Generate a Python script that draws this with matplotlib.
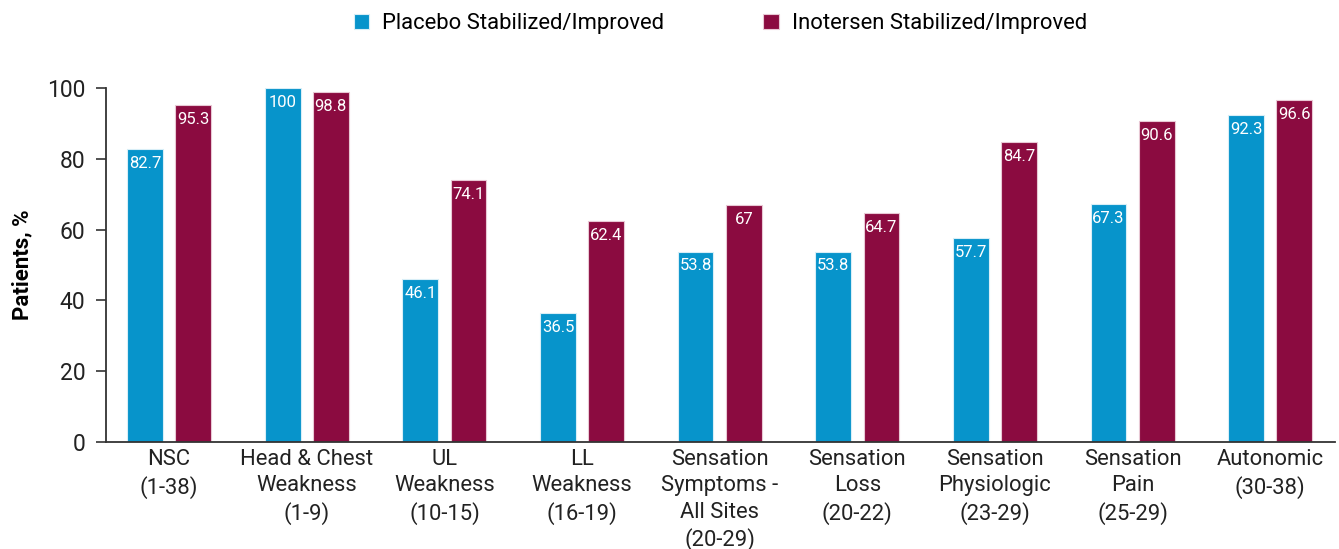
import matplotlib.pyplot as plt
import numpy as np

plt.rcParams['font.family'] = ['Roboto', 'DejaVu Sans']

# Data
categories = ['NSC\n(1-38)', 'Head & Chest\nWeakness\n(1-9)', 'UL\nWeakness\n(10-15)',
              'LL\nWeakness\n(16-19)', 'Sensation\nSymptoms -\nAll Sites\n(20-29)',
              'Sensation\nLoss\n(20-22)', 'Sensation\nPhysiologic\n(23-29)',
              'Sensation\nPain\n(25-29)', 'Autonomic\n(30-38)']
placebo = [82.7, 100, 46.1, 36.5, 53.8, 53.8, 57.7, 67.3, 92.3]
inotersen = [95.3, 98.8, 74.1, 62.4, 67, 64.7, 84.7, 90.6, 96.6]
yticks = [0, 20, 40, 60, 80, 100]

blue = '#0794CB'
red = '#8B0B40'

fig = plt.figure(figsize=(13.39, 5.49), dpi=100)
ax = fig.add_axes([0.0792, 0.1949, 0.9178, 0.6448])

x = np.arange(len(categories))
w = 0.26
off = 0.175
b1 = ax.bar(x - off, placebo, w, color=blue, edgecolor='#d8eef7', linewidth=0.8,
            label='Placebo Stabilized/Improved')
b2 = ax.bar(x + off, inotersen, w, color=red, edgecolor='#e8c8d4', linewidth=0.8,
            label='Inotersen Stabilized/Improved')

def fmt(v):
    return f'{v:g}'

for bars, vals in ((b1, placebo), (b2, inotersen)):
    for rect, v in zip(bars, vals):
        ax.annotate(fmt(v), (rect.get_x() + rect.get_width() / 2, v),
                    xytext=(0, -5), textcoords='offset points',
                    ha='center', va='top', color='white', fontsize=12)

ax.set_xlim(-0.458, 8.47)
ax.set_ylim(0, 100)
ax.set_yticks(yticks)
ax.set_xticks(x)
ax.set_xticklabels(categories, fontsize=15.8, color='#222222', linespacing=1.33)
ax.tick_params(axis='x', length=0, pad=5)
ax.tick_params(axis='y', labelsize=16.5, length=7, width=1.2, color='#333333',
               labelcolor='#222222', pad=8)
for s in ['top', 'right']:
    ax.spines[s].set_visible(False)
for s in ['left', 'bottom']:
    ax.spines[s].set_color('#333333')
    ax.spines[s].set_linewidth(1.3)

ax.set_ylabel('Patients, %', fontsize=16, fontweight='bold', labelpad=10)

fig.legend(handles=[b1, b2], loc='upper center', bbox_to_anchor=(0.538, 1.012),
           ncol=2, frameon=False, fontsize=15.8, handlelength=0.7, handleheight=0.7,
           columnspacing=4.5, handletextpad=0.6)

fig.savefig('out.png', dpi=100)
